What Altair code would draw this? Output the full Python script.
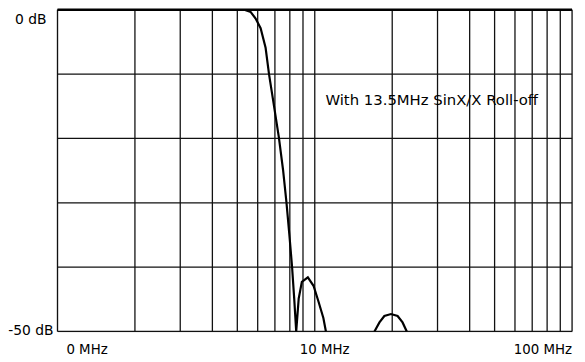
import altair as alt
import pandas as pd

# Curve (frequency in MHz, level in dB)
main_f = [1.0, 5.32, 5.64, 5.89, 6.16, 6.44, 6.64, 6.94, 7.25, 7.53, 7.76, 7.96, 8.16, 8.32, 8.47,
          8.66, 8.91, 9.40, 9.89, 10.33, 10.80, 11.05]
main_db = [0.0, 0.0, -0.35, -1.35, -2.85, -5.9, -10.0, -14.9, -19.8, -24.9, -29.9, -34.8, -39.9, -44.9, -50.0,
           -44.9, -42.3, -41.6, -42.9, -45.3, -47.9, -50.0]
lobe_f = [17.06, 17.84, 18.64, 19.78, 20.99, 21.94, 22.79]
lobe_db = [-50.0, -48.6, -47.6, -47.3, -47.6, -48.6, -50.0]

grid_f = [1, 2, 3, 4, 5, 6, 7, 8, 9, 10, 20, 30, 40, 50, 60, 70, 80, 90, 100]
grid_db = [0, -10, -20, -30, -40, -50]

x_tick_f = [1, 10, 100]
x_tick_text = ["0 MHz", "10 MHz", "100 MHz"]
y_tick_db = [0, -50]
y_tick_text = ["0 dB", "-50 dB"]

note_text = "With 13.5MHz SinX/X Roll-off"
note_f = 11.0
note_db = -14.1

FONT = "DejaVu Sans"

xs = alt.Scale(type="log", domain=[1, 100])
ys = alt.Scale(domain=[-50, 0])

curve = pd.DataFrame({
    "f": main_f + lobe_f,
    "db": main_db + lobe_db,
    "seg": ["main"] * len(main_f) + ["lobe"] * len(lobe_f),
})

vgrid = alt.Chart(pd.DataFrame({"f": grid_f})).mark_rule(color="#111", strokeWidth=1.3).encode(
    x=alt.X("f:Q", scale=xs, axis=None))
hgrid = alt.Chart(pd.DataFrame({"db": grid_db})).mark_rule(color="#111", strokeWidth=1.3).encode(
    y=alt.Y("db:Q", scale=ys, axis=None))
topline = alt.Chart(pd.DataFrame({"db": [0]})).mark_rule(color="#000", strokeWidth=2.5).encode(
    y=alt.Y("db:Q", scale=ys, axis=None))

line = alt.Chart(curve).mark_line(color="#000", strokeWidth=2.2, clip=True).encode(
    x=alt.X("f:Q", scale=xs, axis=None),
    y=alt.Y("db:Q", scale=ys, axis=None),
    detail="seg:N",
    order=alt.Order("idx:Q"),
).transform_window(idx="row_number()")

xl = pd.DataFrame({"f": x_tick_f, "t": x_tick_text, "db": [-50] * 3})
xlab_left = alt.Chart(xl.iloc[[0]]).mark_text(font=FONT, fontSize=13.5, align="left", dx=9, dy=19, color="#000").encode(
    x=alt.X("f:Q", scale=xs, axis=None), y=alt.Y("db:Q", scale=ys, axis=None), text="t:N")
xlab_mid = alt.Chart(xl.iloc[[1]]).mark_text(font=FONT, fontSize=13.5, align="center", dx=10, dy=19, color="#000").encode(
    x=alt.X("f:Q", scale=xs, axis=None), y=alt.Y("db:Q", scale=ys, axis=None), text="t:N")
xlab_right = alt.Chart(xl.iloc[[2]]).mark_text(font=FONT, fontSize=13.5, align="right", dx=0, dy=19, color="#000").encode(
    x=alt.X("f:Q", scale=xs, axis=None), y=alt.Y("db:Q", scale=ys, axis=None), text="t:N")

yl = pd.DataFrame({"db": y_tick_db, "t": y_tick_text, "f": [1, 1]})
ylab_top = alt.Chart(yl.iloc[[0]]).mark_text(font=FONT, fontSize=14, align="right", dx=-11, dy=10, color="#000").encode(
    x=alt.X("f:Q", scale=xs, axis=None), y=alt.Y("db:Q", scale=ys, axis=None), text="t:N")
ylab_bot = alt.Chart(yl.iloc[[1]]).mark_text(font=FONT, fontSize=14, align="right", dx=-4, dy=0, color="#000").encode(
    x=alt.X("f:Q", scale=xs, axis=None), y=alt.Y("db:Q", scale=ys, axis=None), text="t:N")

note = alt.Chart(pd.DataFrame({"f": [note_f], "db": [note_db], "t": [note_text]})).mark_text(
    font=FONT, fontSize=15, align="left", baseline="middle", color="#000").encode(
    x=alt.X("f:Q", scale=xs, axis=None), y=alt.Y("db:Q", scale=ys, axis=None), text="t:N")

chart = alt.layer(vgrid, hgrid, topline, line, note, xlab_left, xlab_mid, xlab_right, ylab_top, ylab_bot).properties(
    width=520, height=325,
    autosize=alt.AutoSizeParams(type="none"),
    padding={"left": 50, "top": 0, "right": 5, "bottom": 25},
).configure_view(stroke=None).configure(background="white")

chart.save("out.html", embed_options={"renderer": "svg", "actions": False})
